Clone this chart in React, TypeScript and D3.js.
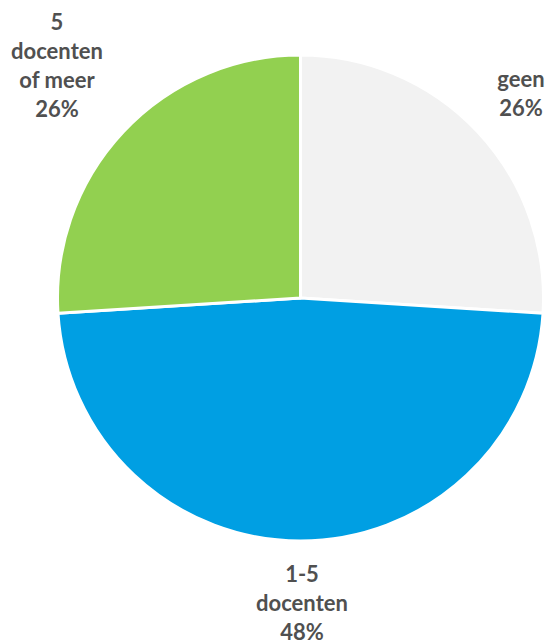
import React from "react";
import * as d3 from "d3";

const categories = ["geen", "1-5 docenten", "5 docenten of meer"];
const values = [26, 48, 26];
const colors = ["#F2F2F2", "#009FE3", "#92D050"];
const labelLines = [["geen", "26%"], ["1-5", "docenten", "48%"], ["5", "docenten", "of meer", "26%"]];

const W = 551, H = 642;
const cx = 300.5, cy = 298, R = 243;

export default function App() {
  const pie = d3.pie<number>().sort(null).value((d) => d)(values);
  const arc = d3.arc<d3.PieArcDatum<number>>().innerRadius(0).outerRadius(R);
  const labelPos = [
    { x: 521, y: 87 },
    { x: 302, y: 582 },
    { x: 57, y: 30 },
  ];
  const lh = 29;
  return (
    <svg width={W} height={H} style={{ position: "absolute", left: 0, top: 0 }}>
      <rect width={W} height={H} fill="#fff" />
      <g transform={`translate(${cx},${cy})`}>
        {pie.map((p, i) => (
          <path key={categories[i]} d={arc(p) || ""} fill={colors[i]} stroke="#fff" strokeWidth={3} strokeLinejoin="round" />
        ))}
      </g>
      {labelLines.map((lines, i) => (
        <text key={i} textAnchor="middle" fontFamily="Lato, 'Open Sans', sans-serif" fontWeight="bold" fontSize={22} fill="#505050">
          {lines.map((l, j) => (
            <tspan key={j} x={labelPos[i].x} y={labelPos[i].y + j * lh}>{l}</tspan>
          ))}
        </text>
      ))}
    </svg>
  );
}
